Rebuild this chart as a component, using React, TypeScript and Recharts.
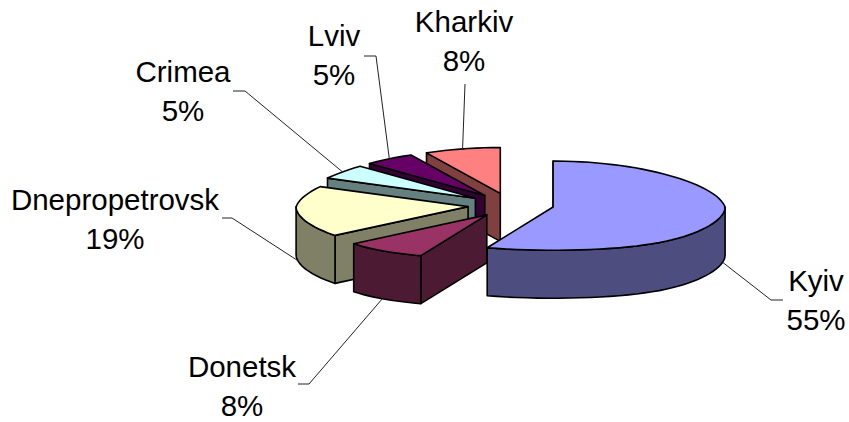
import { PieChart, Pie, Cell } from "recharts"

// back to front, so the painter order of the sectors gives the overlap
const categories = ["Kharkiv", "Lviv", "Crimea", "Dnepropetrovsk", "Donetsk", "Kyiv"]
const shares = [7.8, 5, 5, 18.8, 8, 55.4]

const topColors = ["#FF8080", "#660066", "#CCFFFF", "#FFFFCC", "#993366", "#9999FF"]
const sideColors = ["#804040", "#330033", "#668080", "#808066", "#4C1A33", "#4D4D80"]

const chartData = categories.map((name, i) => ({ name, value: shares[i] }))

const FONT = "'Liberation Sans', Arial, sans-serif"
const TILT = 0.267 // ry / rx
const DEPTH = 48
const EXPLODE_X = 0.25
const EXPLODE_Y = 0.26

// where each label sits: text centre, first baseline, then leader line knots
const labelLayout: Record<string, { x: number; y: number; leader: number[][] }> = {
  Kharkiv: { x: 464, y: 32, leader: [[465, 84]] },
  Lviv: { x: 334, y: 46, leader: [[364, 56], [376, 56]] },
  Crimea: { x: 183, y: 82, leader: [[233, 91], [245, 91]] },
  Dnepropetrovsk: { x: 115, y: 210, leader: [[222, 218], [232, 218]] },
  Donetsk: { x: 242, y: 377, leader: [[298, 384], [309, 384]] },
  Kyiv: { x: 816, y: 291, leader: [[783, 300], [771, 300]] },
}

const rad = (deg: number) => (deg * Math.PI) / 180

const project = (cx: number, cy: number, r: number, mid: number, angle: number) => {
  const ry = r * TILT
  const ax = cx + r * EXPLODE_X * Math.cos(rad(mid))
  const ay = cy - ry * EXPLODE_Y * Math.sin(rad(mid))
  const u = Math.cos(rad(angle))
  const v = Math.sin(rad(angle))
  // rough perspective: the front of the pie is wider and flatter than the back
  const widen = v < 0 ? 1 + 0.19 * v ** 4 : 1 - 0.1 * v
  const flatten = v < 0 ? 0.94 : 1
  return {
    apex: [ax, ay],
    rim: [ax + r * u * widen, ay - ry * v * flatten],
  }
}

const toPath = (pts: number[][]) =>
  "M" + pts.map((p) => `${p[0].toFixed(1)},${p[1].toFixed(1)}`).join("L") + "Z"

const down = (p: number[]) => [p[0], p[1] + DEPTH]

const Slice3D = (props: any) => {
  const { cx, cy, outerRadius, startAngle, endAngle, fill, name } = props
  const a = Math.min(startAngle, endAngle)
  const b = Math.max(startAngle, endAngle)
  const mid = (a + b) / 2
  const side = sideColors[categories.indexOf(name)]
  const at = (t: number) => project(cx, cy, outerRadius, mid, t)
  const apex = at(a).apex

  const rim: number[][] = []
  for (let t = a; t < b; t += 3) rim.push(at(t).rim)
  rim.push(at(b).rim)

  const from = Math.max(a, 180)
  const to = Math.min(b, 360)
  const arc: number[][] = []
  if (from < to) {
    for (let t = from; t < to; t += 3) arc.push(at(t).rim)
    arc.push(at(to).rim)
  }

  const edge = at(b).rim
  const common = { stroke: "#000", strokeWidth: 1.6, strokeLinejoin: "round" as const }

  return (
    <g>
      {Math.cos(rad(b)) < 1e-6 ? (
        <path d={toPath([apex, edge, down(edge), down(apex)])} fill={side} {...common} />
      ) : null}
      {arc.length > 0 && (
        <path d={toPath([...arc, ...arc.map(down).reverse()])} fill={side} {...common} />
      )}
      <path d={toPath([apex, ...rim])} fill={fill} {...common} />
    </g>
  )
}

const renderLabel = (props: any) => {
  const { cx, cy, outerRadius, startAngle, endAngle, name, percent } = props
  const layout = labelLayout[name]
  const a = Math.min(startAngle, endAngle)
  const b = Math.max(startAngle, endAngle)
  const mid = (a + b) / 2
  const tip = project(cx, cy, outerRadius, mid, mid).rim
  const end = Math.sin(rad(mid)) < 0 ? down(tip) : tip
  const knots = [...layout.leader, end].map((p) => p.join(",")).join(" ")
  return (
    <g>
      <polyline points={knots} fill="none" stroke="#222" strokeWidth={1} />
      <text x={layout.x} y={layout.y} textAnchor="middle" fontFamily={FONT} fontSize={29.5} fill="#000">
        {name}
      </text>
      <text x={layout.x} y={layout.y + 39} textAnchor="middle" fontFamily={FONT} fontSize={29.5} fill="#000">
        {`${Math.round(percent * 100)}%`}
      </text>
    </g>
  )
}

export default function App() {
  return (
    <div style={{ position: "absolute", left: 0, top: 0, width: 849, height: 422, background: "#fff" }}>
      <PieChart width={849} height={422} margin={{ top: 0, right: 0, bottom: 0, left: 0 }}>
        <Pie
          data={chartData}
          dataKey="value"
          nameKey="name"
          cx={510.7}
          cy={205}
          outerRadius={172}
          startAngle={90}
          endAngle={450}
          stroke="none"
          shape={Slice3D}
          label={renderLabel}
          labelLine={false}
          isAnimationActive={false}
        >
          {categories.map((name, i) => (
            <Cell key={name} fill={topColors[i]} />
          ))}
        </Pie>
      </PieChart>
    </div>
  )
}
